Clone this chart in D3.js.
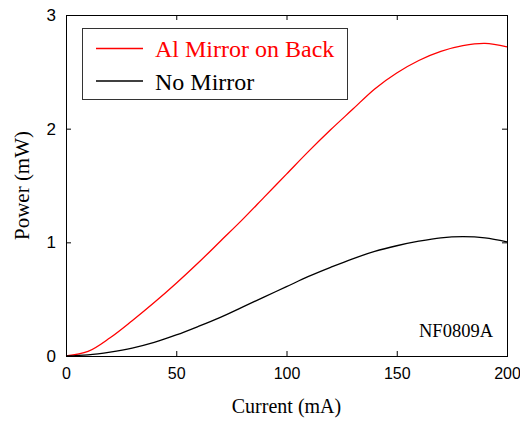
<!DOCTYPE html>
<html>
<head>
<meta charset="utf-8">
<script src="https://cdn.jsdelivr.net/npm/d3@7"></script>
<style>
  body { margin: 0; background: #fff; }
  svg { display: block; }
  .tick-label { font-family: "Liberation Sans", Arial, sans-serif; font-size: 16px; fill: #000; }
</style>
</head>
<body>
<div id="chart"></div>
<script>
// current (mA) sample points
const current = [0, 10, 20, 30, 40, 50, 60, 70, 80, 90, 100, 110, 120, 130, 140, 150, 160, 170, 180, 190, 200];
// power (mW)
const alMirror = [0, 0.04, 0.16, 0.31, 0.47, 0.64, 0.82, 1.01, 1.20, 1.40, 1.60, 1.80, 1.99, 2.17, 2.35, 2.49, 2.60, 2.68, 2.73, 2.75, 2.72];
const noMirror = [0, 0.01, 0.035, 0.07, 0.12, 0.185, 0.26, 0.34, 0.43, 0.52, 0.61, 0.70, 0.78, 0.855, 0.92, 0.97, 1.01, 1.04, 1.05, 1.04, 1.005];

const xTicks = [0, 50, 100, 150, 200];
const yTicks = [0, 1, 2, 3];

const series = [
    { name: 'Al Mirror on Back', color: '#ff0000', values: alMirror },
    { name: 'No Mirror', color: '#000000', values: noMirror },
];

const SERIF = '"Liberation Serif", "Times New Roman", serif';

const width = 520;
const height = 421;
const margin = { top: 15, right: 13, bottom: 65, left: 66 };
const innerW = width - margin.left - margin.right;
const innerH = height - margin.top - margin.bottom;

const svg = d3.select('#chart')
    .append('svg')
    .attr('width', width)
    .attr('height', height);

const g = svg.append('g')
    .attr('transform', `translate(${margin.left},${margin.top})`);

const x = d3.scaleLinear().domain([0, 200]).range([0, innerW]);
const y = d3.scaleLinear().domain([0, 3]).range([innerH, 0]);

// curves
const line = d3.line()
    .x((d, i) => x(current[i]))
    .y(d => y(d))
    .curve(d3.curveCatmullRom.alpha(0.5));

series.forEach(s => {
    g.append('path')
        .datum(s.values)
        .attr('fill', 'none')
        .attr('stroke', s.color)
        .attr('stroke-width', 1.3)
        .attr('d', line);
});

// inward ticks on all four sides, labels only bottom/left
const tickLen = 5;
g.append('g')
    .attr('transform', `translate(0,${innerH})`)
    .call(d3.axisBottom(x).tickValues(xTicks).tickFormat(d3.format('d'))
        .tickSizeInner(-tickLen).tickSizeOuter(0).tickPadding(12))
    .call(a => a.select('.domain').remove())
    .call(a => a.selectAll('text').attr('class', 'tick-label').attr('font-size', null).attr('font-family', null));

g.append('g')
    .call(d3.axisTop(x).tickValues(xTicks).tickSizeInner(-tickLen).tickSizeOuter(0).tickFormat(''))
    .call(a => a.select('.domain').remove());

g.append('g')
    .call(d3.axisLeft(y).tickValues(yTicks).tickFormat(d3.format('d'))
        .tickSizeInner(-tickLen).tickSizeOuter(0).tickPadding(10))
    .call(a => a.select('.domain').remove())
    .call(a => a.selectAll('text').attr('class', 'tick-label').attr('font-size', null).attr('font-family', null).style('font-size', '17px'));

g.append('g')
    .attr('transform', `translate(${innerW},0)`)
    .call(d3.axisRight(y).tickValues(yTicks).tickSizeInner(-tickLen).tickSizeOuter(0).tickFormat(''))
    .call(a => a.select('.domain').remove());

g.selectAll('.tick line').attr('stroke', '#000');

// frame
g.append('rect')
    .attr('x', 0.5)
    .attr('y', 0.5)
    .attr('width', innerW)
    .attr('height', innerH)
    .attr('fill', 'none')
    .attr('stroke', '#000')
    .attr('stroke-width', 1);

// axis titles
svg.append('text')
    .attr('x', margin.left + innerW / 2)
    .attr('y', 413)
    .attr('text-anchor', 'middle')
    .style('font-family', SERIF)
    .style('font-size', '20px')
    .style('fill', '#000')
    .text('Current (mA)');

svg.append('text')
    .attr('transform', `translate(29,${margin.top + innerH / 2}) rotate(-90)`)
    .attr('text-anchor', 'middle')
    .style('font-family', SERIF)
    .style('font-size', '21px')
    .style('fill', '#000')
    .text('Power (mW)');

// legend
const legend = svg.append('g');
legend.append('rect')
    .attr('x', 82.5)
    .attr('y', 28.5)
    .attr('width', 265)
    .attr('height', 71)
    .attr('fill', '#fff')
    .attr('stroke', '#333')
    .attr('stroke-width', 1);

series.forEach((s, i) => {
    const ly = 48.5 + i * 32.5;
    legend.append('line')
        .attr('x1', 96).attr('x2', 143)
        .attr('y1', ly).attr('y2', ly)
        .attr('stroke', s.color)
        .attr('stroke-width', 1.3);
    legend.append('text')
        .attr('x', 155)
        .attr('y', ly + 8.5)
        .style('font-family', SERIF)
        .style('fill', s.color)
        .style('font-size', '24px')
        .text(s.name);
});

// sample id
svg.append('text')
    .attr('x', 493)
    .attr('y', 337)
    .attr('text-anchor', 'end')
    .style('font-family', SERIF)
    .style('font-size', '18.5px')
    .style('fill', '#000')
    .text('NF0809A');
</script>
</body>
</html>
